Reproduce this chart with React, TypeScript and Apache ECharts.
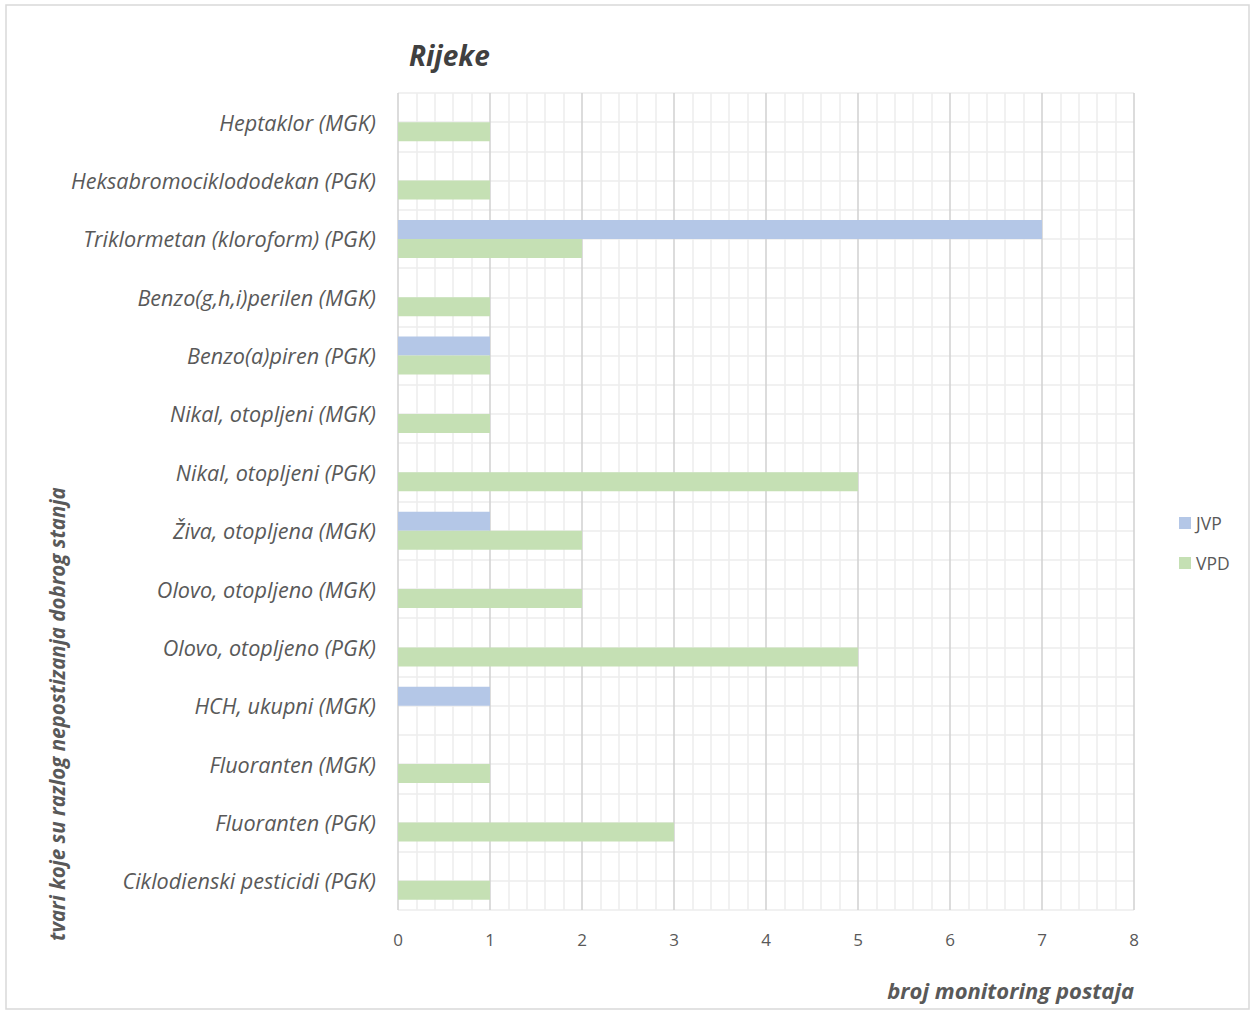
import React, { useEffect, useRef } from "react";
import * as echarts from "echarts";

const categories = [
  "Heptaklor (MGK)",
  "Heksabromociklododekan (PGK)",
  "Triklormetan (kloroform) (PGK)",
  "Benzo(g,h,i)perilen (MGK)",
  "Benzo(a)piren (PGK)",
  "Nikal, otopljeni (MGK)",
  "Nikal, otopljeni (PGK)",
  "Živa, otopljena (MGK)",
  "Olovo, otopljeno (MGK)",
  "Olovo, otopljeno (PGK)",
  "HCH, ukupni (MGK)",
  "Fluoranten (MGK)",
  "Fluoranten (PGK)",
  "Ciklodienski pesticidi (PGK)",
];
const jvp = [null, null, 7, null, 1, null, null, 1, null, null, 1, null, null, null];
const vpd = [1, 1, 2, 1, 1, 1, 5, 2, 2, 5, null, 1, 3, 1];
const xTicks = [0, 1, 2, 3, 4, 5, 6, 7, 8];

const FONT = "'Open Sans', 'Liberation Sans', sans-serif";
const TXT = "#595959";

export default function App() {
  const ref = useRef<HTMLDivElement>(null);
  useEffect(() => {
    document.body.style.margin = "0";
    const chart = echarts.init(ref.current!, null, { renderer: "svg" });
    chart.setOption({
      animation: false,
      backgroundColor: "#fff",
      textStyle: { fontFamily: FONT },
      title: {
        text: "Rijeke",
        left: 404,
        top: 36,
        textStyle: { fontFamily: FONT, fontSize: 28, fontWeight: "bold", fontStyle: "italic", color: "#404040" },
      },
      legend: {
        orient: "vertical",
        left: 1174,
        top: 509,
        itemWidth: 12,
        itemHeight: 12,
        itemGap: 22,
        icon: "rect",
        textStyle: { fontFamily: FONT, fontSize: 17.5, color: TXT },
        data: ["JVP", "VPD"],
      },
      grid: { left: 398, top: 93, right: 117, bottom: 101, containLabel: false },
      xAxis: {
        type: "value",
        min: xTicks[0],
        max: xTicks[xTicks.length - 1],
        interval: 1,
        axisLine: { show: false },
        axisTick: { show: false },
        axisLabel: { color: TXT, fontSize: 17, fontFamily: FONT, margin: 21 },
        splitLine: { show: true, lineStyle: { color: "#d0d0d0", width: 1.5 } },
        minorTick: { show: false, splitNumber: 5 },
        minorSplitLine: { show: true, lineStyle: { color: "#ececec", width: 1.5 } },
        name: "broj monitoring postaja",
        nameLocation: "end",
        nameGap: 0,
        nameTextStyle: {
          fontFamily: FONT,
          fontSize: 22,
          fontWeight: "bold",
          fontStyle: "italic",
          color: TXT,
          align: "right",
          verticalAlign: "top",
          padding: [69, 0, 0, 0],
        },
      },
      yAxis: [
        {
          type: "category",
          data: categories,
          inverse: true,
          axisLine: { show: false },
          axisTick: { show: false },
          splitLine: { show: false },
          axisLabel: { color: TXT, fontSize: 21.6, fontStyle: "italic", fontFamily: FONT, margin: 22, padding: [0, 0, 2, 0] },
        },
        {
          type: "value",
          min: 0,
          max: 28,
          interval: 1,
          position: "left",
          axisLine: { show: false },
          axisTick: { show: false },
          axisLabel: { show: false },
          splitLine: { show: true, lineStyle: { color: "#ececec", width: 1.5 } },
        },
      ],
      graphic: [
        {
          type: "rect",
          shape: { x: 6, y: 5, width: 1243, height: 1004 },
          style: { fill: "none", stroke: "#d9d9d9", lineWidth: 1.5 },
          silent: true,
        },
        {
          type: "text",
          x: 57,
          y: 941,
          rotation: Math.PI / 2,
          style: {
            text: "tvari koje su razlog nepostizanja dobrog stanja",
            fontFamily: FONT,
            fontSize: 20.5,
            fontWeight: "bold",
            fontStyle: "italic",
            fill: TXT,
            align: "left",
            verticalAlign: "middle",
          },
        },
      ],
      series: [
        {
          name: "JVP",
          type: "bar",
          yAxisIndex: 0,
          data: jvp,
          barWidth: 19,
          barGap: "0%",
          itemStyle: { color: "#b4c7e7" },
        },
        {
          name: "VPD",
          type: "bar",
          yAxisIndex: 0,
          data: vpd,
          barWidth: 19,
          barGap: "0%",
          itemStyle: { color: "#c5e0b4" },
        },
      ],
    });
    return () => chart.dispose();
  }, []);
  return <div ref={ref} style={{ width: 1251, height: 1011 }} />;
}
